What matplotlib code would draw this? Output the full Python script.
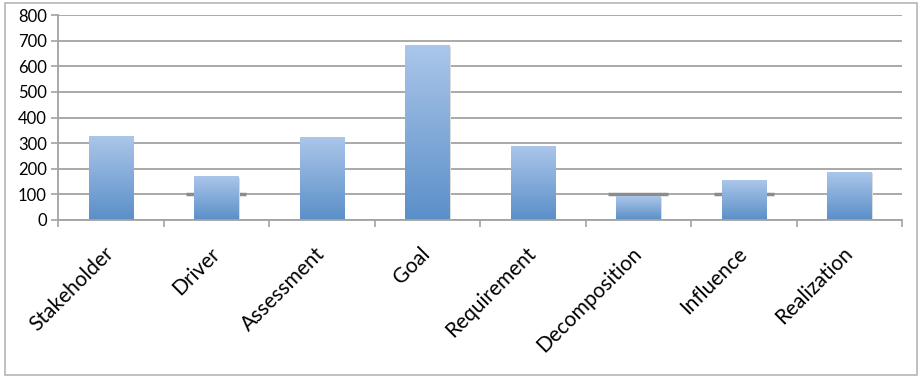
import numpy as np
import matplotlib
matplotlib.use("Agg")
import matplotlib.pyplot as plt
from matplotlib.colors import LinearSegmentedColormap
from matplotlib.patches import Rectangle

plt.rcParams['font.family'] = ['Lato', 'DejaVu Sans']

# data
categories = ["Stakeholder", "Driver", "Assessment", "Goal",
              "Requirement", "Decomposition", "Influence", "Realization"]
counts = [324, 168, 321, 680, 285, 90, 156, 187]
# short grey dash markers seen at 100 on three categories
marks = [np.nan, 100, np.nan, np.nan, np.nan, 100, 100, np.nan]
yticks = [0, 100, 200, 300, 400, 500, 600, 700, 800]

fig = plt.figure(figsize=(9.22, 3.77), dpi=100)
ax = fig.add_axes([58/922, 1-220/377, (902-58)/922, (220-15)/377])

x = np.arange(len(categories))
w = 0.42
cmap = LinearSegmentedColormap.from_list("bar", ["#5a8fc8", "#abc6ea"])
grad = np.linspace(0, 1, 256).reshape(-1, 1)

# dash markers sit behind the bars
ax.plot(x, marks, ls='none', marker='_', markersize=43, mew=2.5,
        color='#8c8c8c', zorder=1)

bars = ax.bar(x, counts, width=w, color='none', zorder=2)
for b in bars:
    bx, by = b.get_x(), b.get_y()
    bw, bh = b.get_width(), b.get_height()
    # soft shadow to the right
    ax.add_patch(Rectangle((bx + 0.015, by), bw, bh - 3, color='#dcdcdc',
                           zorder=1.5, lw=0))
    ax.imshow(grad, extent=(bx, bx + bw, by, by + bh), origin='lower',
              cmap=cmap, aspect='auto', zorder=2, interpolation='bilinear')

ax.set_xlim(-0.5, len(categories) - 0.5)
ax.set_ylim(0, 800)
ax.set_yticks(yticks)
ax.yaxis.grid(True, color='#a3a3a3', lw=1.3)
ax.set_axisbelow(True)

# ticks at category boundaries, labels at centres
ax.set_xticks(np.arange(-0.5, len(categories)), labels=[])
ax.set_xticks(x, minor=True)
ax.set_xticklabels(categories, minor=True, rotation=45, ha='right',
                   va='center', rotation_mode='anchor', fontsize=15)
ax.tick_params(axis='x', which='major', length=5, color='#a3a3a3', width=1.2)
ax.tick_params(axis='x', which='minor', length=0, pad=22)
ax.tick_params(axis='y', length=5, color='#a3a3a3', width=1.2, labelsize=12, pad=3)

for s in ['top', 'right']:
    ax.spines[s].set_visible(False)
for s in ['left', 'bottom']:
    ax.spines[s].set_color('#a3a3a3')
    ax.spines[s].set_linewidth(1.3)

# outer chart frame
fig.add_artist(Rectangle((5/922, 1-375/377), 912/922, 372/377,
                         transform=fig.transFigure, fill=False,
                         ec='#b5b5b5', lw=1.2))

fig.savefig("out.png", dpi=100)
